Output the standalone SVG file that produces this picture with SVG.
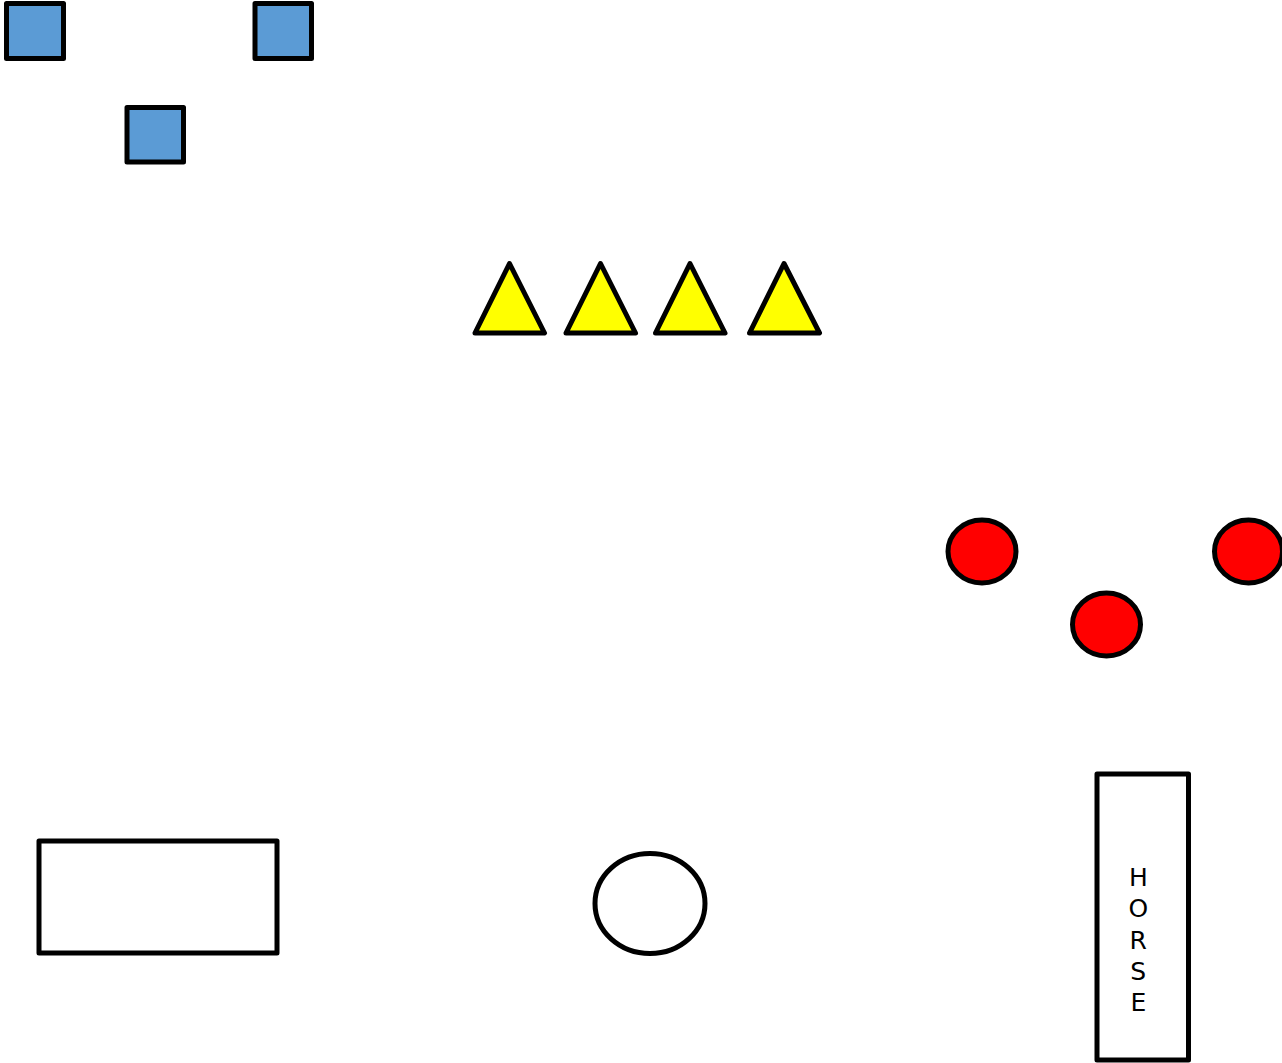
<svg xmlns="http://www.w3.org/2000/svg" width="1282" height="1063" viewBox="0 0 1282 1063">
<style>
.s{stroke:#000;stroke-width:5;stroke-linejoin:round;}
.sq{fill:#5b9bd5;}
.tri{fill:#ffff00;}
.red{fill:#ff0000;}
.w{fill:#fff;}
.t{font-family:"DejaVu Sans",sans-serif;font-size:25px;fill:#000;text-anchor:middle;}
</style>
<rect width="1282" height="1063" fill="#fff"/>
<g id="square1"><rect class="s sq" x="6.5" y="3.5" width="57" height="55"/></g>
<g id="square2"><rect class="s sq" x="255" y="3.5" width="56.5" height="55"/></g>
<g id="square3"><rect class="s sq" x="127" y="107.5" width="56.5" height="54.5"/></g>
<g id="tri1"><polygon class="s tri" points="509.5,263.5 544.5,333 475,333"/></g>
<g id="tri2"><polygon class="s tri" points="600.5,263.5 635.5,333 566,333"/></g>
<g id="tri3"><polygon class="s tri" points="690,263.5 725,333 655.5,333"/></g>
<g id="tri4"><polygon class="s tri" points="784,263.5 819.5,333 749.5,333"/></g>
<g id="circle1"><ellipse class="s red" cx="982" cy="551.5" rx="34" ry="31.5"/></g>
<g id="circle2"><ellipse class="s red" cx="1248.5" cy="551.5" rx="34" ry="31.5"/></g>
<g id="circle3"><ellipse class="s red" cx="1106.5" cy="624.5" rx="34" ry="31.5"/></g>
<g id="rect"><rect class="s w" x="39" y="841" width="238" height="112"/></g>
<g id="ellipse"><ellipse class="s w" cx="650" cy="903.5" rx="55" ry="50"/></g>
<g id="horse"><rect class="s w" x="1097" y="774" width="91.5" height="286"/>
<text class="t"><tspan x="1138.3" y="886">H</tspan><tspan x="1138.3" y="917.25">O</tspan><tspan x="1138.3" y="948.5">R</tspan><tspan x="1138.3" y="979.75">S</tspan><tspan x="1138.3" y="1011">E</tspan></text></g>
<g id="connectors"></g>
</svg>
